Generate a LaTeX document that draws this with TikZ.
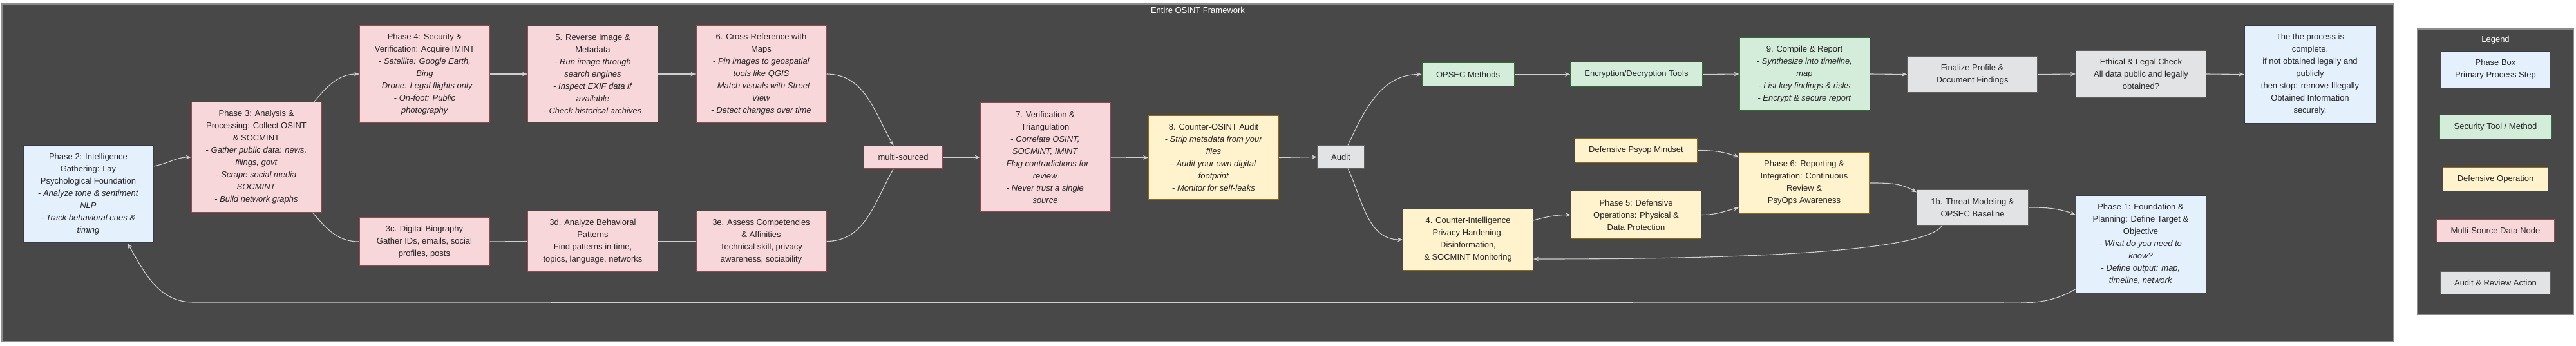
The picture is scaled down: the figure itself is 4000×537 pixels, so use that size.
\documentclass[tikz,border=0pt]{standalone}
\usepackage{fontspec}
\setmainfont{Liberation Sans}
\usetikzlibrary{arrows.meta}

\definecolor{panelgray}{HTML}{484848}
\definecolor{panelline}{HTML}{8C8C8C}
\definecolor{linkgray}{HTML}{CFCFCF}
\definecolor{phasefill}{HTML}{E4F1FD}
\definecolor{phaseline}{HTML}{363C44}
\definecolor{toolfill}{HTML}{D4EDDA}
\definecolor{toolline}{HTML}{2F6B33}
\definecolor{deffill}{HTML}{FFF3CD}
\definecolor{defline}{HTML}{8A6A1A}
\definecolor{multifill}{HTML}{F8D7DA}
\definecolor{multiline}{HTML}{8E4A52}
\definecolor{auditfill}{HTML}{E2E3E5}
\definecolor{auditline}{HTML}{5E5E5E}

\begin{document}
\begin{tikzpicture}[
        x=1pt, y=1pt,
        base/.style={draw, line width=1pt, inner xsep=22pt, inner ysep=12.8pt, align=center,
            font=\fontsize{13}{19}\selectfont, text=black!85},
        wide/.style={minimum width=202pt},
        phasebox/.style={base, fill=phasefill, draw=phaseline},
        toolbox/.style={base, fill=toolfill, draw=toolline},
        defbox/.style={base, fill=deffill, draw=defline},
        multibox/.style={base, fill=multifill, draw=multiline},
        auditbox/.style={base, fill=auditfill, draw=auditline},
        link/.style={draw=linkgray, line width=1.1pt},
        flow/.style={link, -{Stealth[length=8pt,width=6.5pt]}}
    ]
        \useasboundingbox (0,0) rectangle (4000,-537);

        % Panels
        \draw[fill=panelgray, draw=panelline, line width=1.2pt] (3,-6) rectangle (3717,-530);
        \draw[fill=panelgray, draw=panelline, line width=1.2pt] (3754,-45) rectangle (3996,-488);
        \node[font=\fontsize{13}{19}\selectfont, text=white] (title) at (1860,-16) {Entire OSINT Framework};
        \node[font=\fontsize{13}{19}\selectfont, text=white] (lgtitle) at (3875,-62) {Legend};

        % Collection side
        \node[phasebox, wide] (p2) at (137,-301) {Phase 2: Intelligence\\Gathering: Lay\\Psychological Foundation\\- \textit{Analyze tone \& sentiment}\\\textit{NLP}\\- \textit{Track behavioral cues \&}\\\textit{timing}};
        \node[multibox, wide] (p3) at (398,-244) {Phase 3: Analysis \&\\Processing: Collect OSINT\\\& SOCMINT\\- \textit{Gather public data: news,}\\\textit{filings, govt}\\- \textit{Scrape social media}\\\textit{SOCMINT}\\- \textit{Build network graphs}};
        \node[multibox, wide] (p4) at (659.5,-115) {Phase 4: Security \&\\Verification: Acquire IMINT\\- \textit{Satellite: Google Earth,}\\\textit{Bing}\\- \textit{Drone: Legal flights only}\\- \textit{On-foot: Public}\\\textit{photography}};
        \node[multibox, wide] (s5) at (920.5,-115) {5. Reverse Image \&\\Metadata\\- \textit{Run image through}\\\textit{search engines}\\- \textit{Inspect EXIF data if}\\\textit{available}\\- \textit{Check historical archives}};
        \node[multibox, wide] (s6) at (1182,-115) {6. Cross-Reference with\\Maps\\- \textit{Pin images to geospatial}\\\textit{tools like QGIS}\\- \textit{Match visuals with Street}\\\textit{View}\\- \textit{Detect changes over time}};
        \node[multibox, wide] (s3c) at (659,-375) {3c. Digital Biography\\Gather IDs, emails, social\\profiles, posts};
        \node[multibox, wide] (s3d) at (920.5,-374.5) {3d. Analyze Behavioral\\Patterns\\Find patterns in time,\\topics, language, networks};
        \node[multibox, wide] (s3e) at (1182,-374.5) {3e. Assess Competencies\\\& Affinities\\Technical skill, privacy\\awareness, sociability};
        \node[multibox] (multi) at (1402.5,-244) {multi-sourced};
        \node[multibox, wide] (s7) at (1623,-244) {7. Verification \&\\Triangulation\\- \textit{Correlate OSINT,}\\\textit{SOCMINT, IMINT}\\- \textit{Flag contradictions for}\\\textit{review}\\- \textit{Never trust a single}\\\textit{source}};
        \node[defbox, wide] (s8) at (1884.5,-244.5) {8. Counter-OSINT Audit\\- \textit{Strip metadata from your}\\\textit{files}\\- \textit{Audit your own digital}\\\textit{footprint}\\- \textit{Monitor for self-leaks}};
        \node[auditbox] (audit) at (2082,-243.5) {Audit};

        % Security and reporting side
        \node[toolbox] (opsec) at (2279.5,-115.5) {OPSEC Methods};
        \node[toolbox] (encr) at (2541,-115.5) {Encryption/Decryption Tools};
        \node[toolbox, wide] (s9) at (2802,-115) {9. Compile \& Report\\- \textit{Synthesize into timeline,}\\\textit{map}\\- \textit{List key findings \& risks}\\- \textit{Encrypt \& secure report}};
        \node[auditbox, wide] (fin) at (3062.5,-115.5) {Finalize Profile \&\\Document Findings};
        \node[auditbox, wide] (eth) at (3324.5,-115) {Ethical \& Legal Check\\All data public and legally\\obtained?};
        \node[phasebox, minimum width=204pt] (done) at (3587,-115.5) {The the process is\\complete.\\if not obtained legally and\\publicly\\then stop: remove Illegally\\Obtained Information\\securely.};
        \node[defbox, wide] (s4) at (2279.5,-372) {4. Counter-Intelligence\\Privacy Hardening,\\Disinformation,\\\& SOCMINT Monitoring};
        \node[defbox] (psyop) at (2540.5,-233.5) {Defensive Psyop Mindset};
        \node[defbox, wide] (p5) at (2540.5,-333.5) {Phase 5: Defensive\\Operations: Physical \&\\Data Protection};
        \node[defbox, wide] (p6) at (2801.5,-284) {Phase 6: Reporting \&\\Integration: Continuous\\Review \&\\PsyOps Awareness};
        \node[auditbox] (s1b) at (3063,-322) {1b. Threat Modeling \&\\OPSEC Baseline};
        \node[phasebox, wide] (p1) at (3324,-379) {Phase 1: Foundation \&\\Planning: Define Target \&\\Objective\\- \textit{What do you need to}\\\textit{know?}\\- \textit{Define output: map,}\\\textit{timeline, network}};

        % Legend
        \node[phasebox] (lgphase) at (3875,-108) {Phase Box\\Primary Process Step};
        \node[toolbox] (lgtool) at (3875,-197) {Security Tool / Method};
        \node[defbox] (lgdef) at (3875,-278) {Defensive Operation};
        \node[multibox] (lgmulti) at (3875,-358) {Multi-Source Data Node};
        \node[auditbox] (lgaudit) at (3875,-439) {Audit \& Review Action};

        % Connectors
        \coordinate (loopR) at (3100,-470);
        \coordinate (loopL) at (300,-469);
        \draw[flow] (p2.23) to[out=10,in=180] (p3.west);
        \draw[flow] ([xshift=-12pt]p3.north east) to[out=50,in=180] (p4.west);
        \draw[link] ([xshift=-14pt]p3.south east) to[out=-50,in=180] (s3c.west);
        \draw[link] (s3c.east) -- (s3d.west);
        \draw[link] (s3d.east) -- (s3e.west);
        \draw[link] (s3e.east) to[out=0,in=-120] ([xshift=-15pt]multi.south);
        \draw[flow] (p4.east) -- (s5.west);
        \draw[flow] (s5.east) -- (s6.west);
        \draw[flow] (s6.east) to[out=0,in=120] ([xshift=-15pt]multi.north);
        \draw[flow] (multi.east) -- (s7.west);
        \draw[flow] (s7.east) -- (s8.west);
        \draw[flow] (s8.east) -- (audit.west);
        \draw[flow] ([xshift=11pt]audit.north) to[out=65,in=180] (opsec.west);
        \draw[flow] ([xshift=11pt]audit.south) to[out=-65,in=180] (s4.west);
        \draw[flow] (opsec.east) -- (encr.west);
        \draw[flow] (encr.east) -- (s9.west);
        \draw[flow] (s9.east) -- (fin.west);
        \draw[flow] (fin.east) -- (eth.west);
        \draw[flow] (eth.east) -- (done.west);
        \draw[flow] ([yshift=30pt]s4.east) to[out=15,in=180] (p5.west);
        \draw[flow] (p5.east) to[out=0,in=195] ([yshift=-38pt]p6.west);
        \draw[flow] (psyop.east) to[out=0,in=160] ([yshift=40pt]p6.west);
        \draw[flow] (p6.east) to[out=0,in=150] ([yshift=-4pt]s1b.north west);
        \draw[flow] (s1b.east) to[out=0,in=160] ([yshift=46pt]p1.west);
        \draw[flow] ([xshift=-47pt]s1b.south) .. controls +(-30,-50) and +(200,0) .. ([yshift=-30pt]s4.east);
        \draw[flow] ([yshift=6pt]p1.south west) to[out=-150,in=0] (loopR) -- (loopL) to[out=180,in=-60] ([xshift=61pt]p2.south);
    \end{tikzpicture}
\end{document}
